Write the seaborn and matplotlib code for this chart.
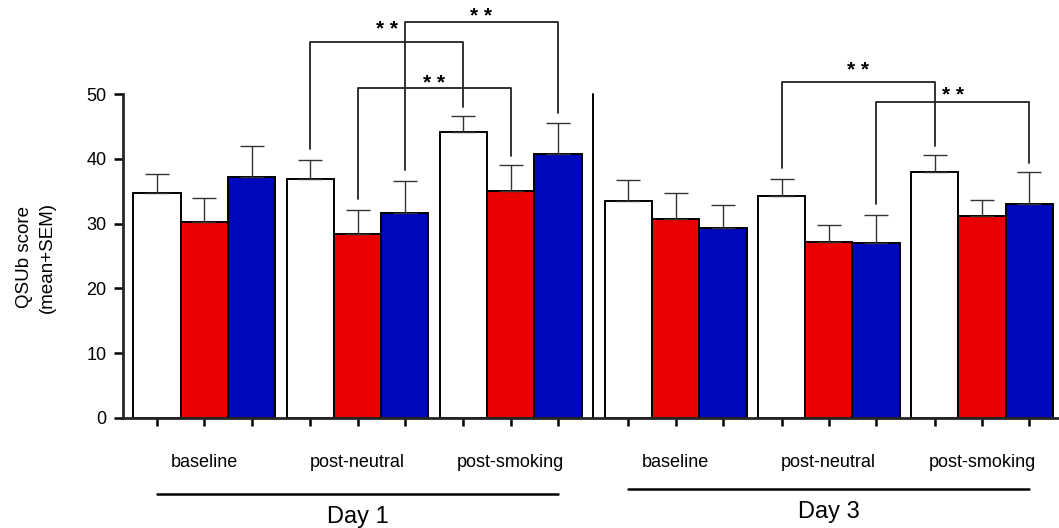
import numpy as np
import pandas as pd
import matplotlib.pyplot as plt
import seaborn as sns

# values
days = ['Day 1', 'Day 3']
phases = ['baseline', 'post-neutral', 'post-smoking']
conditions = ['white', 'red', 'blue']
colors = ['#ffffff', '#e90000', '#0008bd']

means_day1 = [[34.7, 30.2, 37.2],
              [36.9, 28.4, 31.6],
              [44.2, 35.1, 40.7]]
sems_day1 = [[3.0, 3.8, 4.8],
             [2.9, 3.7, 5.0],
             [2.4, 3.9, 4.9]]
means_day3 = [[33.5, 30.7, 29.3],
              [34.2, 27.2, 27.0],
              [38.0, 31.1, 33.0]]
sems_day3 = [[3.2, 4.0, 3.6],
             [2.7, 2.6, 4.4],
             [2.6, 2.6, 4.9]]

# significance brackets: (day, phase a, phase b, condition, bracket top)
brackets = [(0, 1, 2, 0, 58.0),
            (0, 1, 2, 2, 61.1),
            (0, 1, 2, 1, 51.0),
            (1, 1, 2, 0, 51.8),
            (1, 1, 2, 2, 48.8)]
star_heights = [60.0, 62.0, 51.6, 53.6, 49.7]

day_gap = 0.077
rows = []
for d, (m, s) in enumerate([(means_day1, sems_day1), (means_day3, sems_day3)]):
    for p in range(3):
        for c in range(3):
            rows.append({'day': d, 'phase': p, 'pos': d * (3 + day_gap) + p,
                         'cond': conditions[c], 'mean': m[p][c], 'sem': s[p][c]})
df = pd.DataFrame(rows).sort_values(['pos']).reset_index(drop=True)

sns.set_style('ticks')
plt.rcParams['font.family'] = ['Liberation Sans', 'DejaVu Sans']
plt.rcParams['text.color'] = 'black'
plt.rcParams['xtick.color'] = 'black'
plt.rcParams['ytick.color'] = 'black'

fig = plt.figure(figsize=(10.59, 5.28), dpi=100)
ax = fig.add_axes([122.7 / 1059, 110 / 528, 936.3 / 1059, 414.7 / 528])

sns.barplot(data=df, x='pos', y='mean', hue='cond', hue_order=conditions,
            palette=colors, native_scale=True, width=0.926, errorbar=None,
            saturation=1, edgecolor='black', linewidth=1.4, legend=False, ax=ax)

# error bars (upper only) on top of the seaborn bars
centers = {}
err_top = {}
for container, cond in zip(ax.containers, conditions):
    sub = df[df['cond'] == cond].sort_values('pos')
    xs = [b.get_x() + b.get_width() / 2 for b in container]
    hs = [b.get_height() for b in container]
    ax.errorbar(xs, hs, yerr=[np.zeros(len(xs)), sub['sem'].values], fmt='none',
                ecolor='#333333', elinewidth=1.0, capsize=8.3, capthick=1.0, zorder=1)
    for x, h, (_, r) in zip(xs, hs, sub.iterrows()):
        centers[(r['day'], r['phase'], cond)] = x
        err_top[(r['day'], r['phase'], cond)] = h + r['sem']

ax.set_ylim(0, 64)
ax.set_xlim(-0.533, 3 + day_gap + 2 + 0.503)
ax.spines['left'].set_bounds(0, 50)
ax.spines['left'].set_linewidth(2.0)
ax.spines['bottom'].set_linewidth(2.0)
sns.despine(ax=ax)
ax.set_yticks(range(0, 51, 10))
ax.tick_params(axis='y', length=6.5, width=1.8, labelsize=13, pad=5)

all_x = sorted(centers.values())
ax.xaxis.remove_overlapping_locs = False
ax.set_xticks(all_x, labels=[''] * len(all_x))
ax.tick_params(axis='x', which='major', length=6, width=1.8)
group_pos = sorted(df['pos'].unique())
ax.set_xticks(group_pos, labels=phases * 2, minor=True)
ax.tick_params(axis='x', which='minor', length=0, pad=26, labelsize=13)
ax.set_xlabel('')
ax.set_ylabel('')

trans = ax.get_xaxis_transform()
for d, day in enumerate(days):
    xs = [centers[(d, p, c)] for p in range(3) for c in conditions]
    ly = -0.183 if d == 0 else -0.171
    ty = -0.239 if d == 0 else -0.227
    ax.plot([min(xs), max(xs)], [ly, ly], color='black', lw=1.8,
            transform=trans, clip_on=False)
    ax.text((min(xs) + max(xs)) / 2, ty, day, ha='center', va='center',
            fontsize=17, transform=trans)

# divider between days
x_div = (centers[(0, 2, 'blue')] + centers[(1, 0, 'white')]) / 2
ax.plot([x_div, x_div], [0, 50], color='black', lw=1.4)

for (d, pa, pb, c, top), sy in zip(brackets, star_heights):
    cond = conditions[c]
    xa, xb = centers[(d, pa, cond)], centers[(d, pb, cond)]
    ya = err_top[(d, pa, cond)] + 1.7
    yb = err_top[(d, pb, cond)] + 1.4
    ax.plot([xa, xa, xb, xb], [ya, top, top, yb], color='#222222', lw=1.3,
            clip_on=False)
    ax.text((xa + xb) / 2, sy, '* *', ha='center', va='center', fontsize=15,
            fontweight='bold')

fig.text(36 / 1059, 1 - 257 / 528, 'QSUb score\n(mean+SEM)', rotation=90,
         ha='center', va='center', multialignment='center', fontsize=13.5,
         linespacing=1.5)

fig.savefig('out.png', dpi=100)
